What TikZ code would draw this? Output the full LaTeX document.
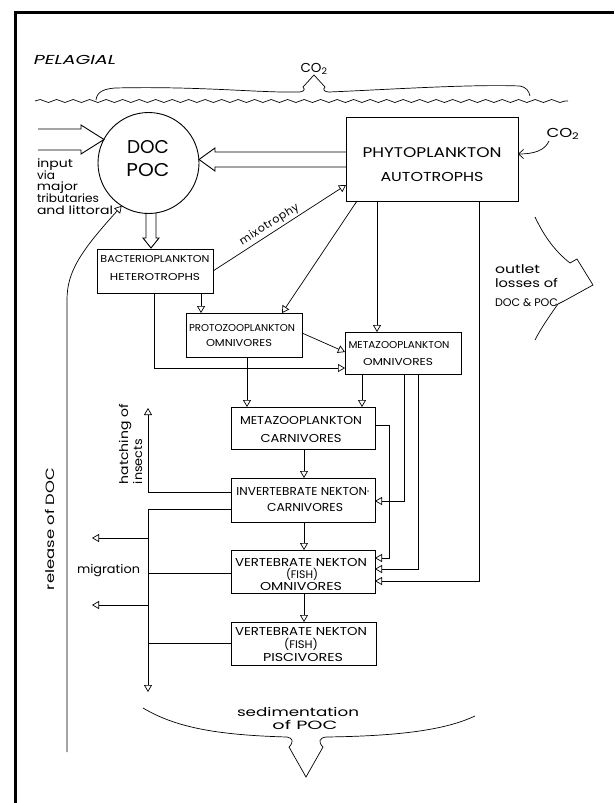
\documentclass[tikz,border=0pt]{standalone}
\usepackage{fontspec}
\setmainfont{Poppins}
\usepackage{graphicx}
\usetikzlibrary{arrows.meta,calc,decorations.pathmorphing}
% text at a given size, stretched to a given width (height kept)
\newcommand\wtxt[3]{{\fontsize{#2}{#2}\selectfont\resizebox{#1}{\height}{#3}}}

\begin{document}
\begin{tikzpicture}[x=1pt,y=-1pt,
  box/.style={draw,line width=1pt,inner sep=0pt,outer sep=0pt},
  lbl/.style={inner sep=0pt,outer sep=0pt,anchor=base},
  lblw/.style={inner sep=0pt,outer sep=0pt,anchor=base west},
  conn/.style={line width=0.7pt},
  tip/.style={conn,-{Triangle[open,length=7pt,width=8pt]}},
  blk/.style={line width=0.9pt,line join=miter},
]
\useasboundingbox (0,0) rectangle (614,803);
\fill[white] (0,0) rectangle (614,803);

% frame
\draw[line width=3pt] (15.5,803) -- (15.5,12) -- (614,12);

% surface, heading and CO2 exchange
\node[lbl] (pelagial) at (75,64) {\wtxt{82pt}{13}{\itshape PELAGIAL}};
\node[lbl] (co2top) at (314,72) {\wtxt{27pt}{13}{CO\textsubscript{2}}};
\draw[conn,decorate,decoration={snake,segment length=16.5pt,amplitude=1.5pt}] (35,101) -- (568,101);
\draw[conn] (96,100) .. controls (97,92) and (103,89) .. (115,88)
  .. controls (200,86) and (260,93) .. (299,92)
  .. controls (303,92) and (306,90) .. (303,87) -- (314,75) -- (325,87)
  .. controls (322,90) and (325,92) .. (329,92)
  .. controls (380,90) and (470,84) .. (520,86)
  .. controls (526,87) and (529,91) .. (530,96);

% pools and compartments
\node[draw,circle,line width=0.9pt,minimum size=101pt,inner sep=0pt,outer sep=0pt] (doc) at (148.5,163) {};
\node[lbl] (docA) at (148,153.5) {\wtxt{42pt}{18.5}{DOC}};
\node[lbl] (docB) at (148,176.5) {\wtxt{43pt}{18.5}{POC}};

\node[box,minimum width=172pt,minimum height=84pt] (phyto) at (432,159) {};
\node[lbl] (phytoA) at (432,157) {\wtxt{139pt}{14}{PHYTOPLANKTON}};
\node[lbl] (phytoB) at (432,181.5) {\wtxt{103pt}{13}{AUTOTROPHS}};

\node[box,minimum width=116pt,minimum height=44pt] (bact) at (155,271) {};
\node[lbl] (bactA) at (155,262.5) {\wtxt{109pt}{10}{BACTERIOPLANKTON}};
\node[lbl] (bactB) at (155,280.5) {\wtxt{90pt}{10}{HETEROTROPHS}};

\node[box,minimum width=116pt,minimum height=44pt] (proto) at (244,335) {};
\node[lbl] (protoA) at (242,331.5) {\wtxt{106pt}{10}{PROTOZOOPLANKTON}};
\node[lbl] (protoB) at (239,346.5) {\wtxt{66pt}{10}{OMNIVORES}};

\node[box,minimum width=116pt,minimum height=42pt] (mzo) at (403,353) {};
\node[lbl] (mzoA) at (399,348.5) {\wtxt{101pt}{10}{METAZOOPLANKTON}};
\node[lbl] (mzoB) at (398,365.5) {\wtxt{70pt}{10}{OMNIVORES}};

\node[box,minimum width=144pt,minimum height=42pt] (mzc) at (303,428) {};
\node[lbl] (mzcA) at (301,424) {\wtxt{122pt}{11.5}{METAZOOPLANKTON}};
\node[lbl] (mzcB) at (301,442) {\wtxt{81pt}{11.5}{CARNIVORES}};

\node[box,minimum width=144pt,minimum height=44pt] (inv) at (303,500) {};
\node[lbl] (invA) at (303,495) {\wtxt{133pt}{11.5}{INVERTEBRATE NEKTON\textperiodcentered}};
\node[lbl] (invB) at (305,511) {\wtxt{76pt}{11.5}{CARNIVORES}};

\node[box,minimum width=144pt,minimum height=43pt] (vo) at (303,571.5) {};
\node[lbl] (voA) at (301,566) {\wtxt{132pt}{11.5}{VERTEBRATE NEKTON}};
\node[lbl] (voB) at (302,578) {\wtxt{32pt}{11}{(FISH)}};
\node[lbl] (voC) at (301,590) {\wtxt{82pt}{11.5}{OMNIVORES}};

\node[box,minimum width=145pt,minimum height=43pt] (vp) at (303.5,643.5) {};
\node[lbl] (vpA) at (301,635) {\wtxt{132pt}{11.5}{VERTEBRATE NEKTON}};
\node[lbl] (vpB) at (301,648) {\wtxt{34pt}{11}{(FISH)}};
\node[lbl] (vpC) at (303,661) {\wtxt{80pt}{11.5}{PISCIVORES}};

% inputs to the DOC/POC pool
\draw[blk] (38,129) -- (81,129) -- (81,125) -- (104,139.5) -- (81,154) -- (81,150) -- (38,150);
\node[lblw] (in1) at (37,167) {\wtxt{36pt}{11.5}{input}};
\node[lblw] (in2) at (37,179) {\wtxt{18pt}{11.5}{via}};
\node[lblw] (in3) at (37,190) {\wtxt{41pt}{11.5}{major}};
\node[lblw] (in4) at (37,202) {\wtxt{62pt}{11.5}{tributaries}};
\node[lblw] (in5) at (37,214) {\wtxt{76pt}{11.5}{and littoral}};

% phytoplankton exudates to the pool, pool to bacteria
\draw[blk] (phyto.west |- 0,152) -- (215,152) -- (215,148) -- (199,159.5) -- (215,171) -- (215,167) -- (phyto.west |- 0,167);
\draw[blk] (146,212.8) -- (146,238) -- (143,238) -- (151,248) -- (159,238) -- (156,238) -- (156,212.8);

% CO2 uptake by phytoplankton
\node[lbl] (co2r) at (563,137) {\wtxt{33pt}{13}{CO\textsubscript{2}}};
\draw[conn,-{Straight Barb[length=5pt,width=9pt]}] (549,141) .. controls (545,150) and (535,154) .. ($(phyto.east)+(0,-5)$);

% outlet losses
\node[lblw] (out1) at (495,273) {\wtxt{45pt}{12}{outlet}};
\node[lblw] (out2) at (495,287) {\wtxt{63pt}{12}{losses of}};
\node[lblw] (out3) at (495,306) {\wtxt{63pt}{11}{DOC \& POC}};
\draw[conn] (535,217) .. controls (545,238) and (556,252) .. (570,263) -- (577,259) -- (593,285)
  -- (564,301) -- (558,304) .. controls (548,318) and (540,330) .. (535,340);

% feeding links
\draw[tip] (bact.east) -- ($(phyto.south west)+(0,-16)$);
\node[lbl,rotate=32.5] (mixo) at (271,227) {\fontsize{11}{11}\selectfont\addfontfeatures{LetterSpace=6}mixotrophy};
\draw[tip] ($(phyto.south west)+(11,0)$) -- ($(proto.north east)+(-20,0)$);
\draw[tip] ($(phyto.south west)+(31,0)$) -- ($(mzo.north west)+(32,0)$);
\draw[tip] ($(phyto.south east)+(-39,0)$) |- ($(vo.east)+(0,9.5)$);
\draw[tip] ($(bact.south west)+(104,0)$) -- ($(proto.north west)+(15,0)$);
\draw[tip] ($(bact.south west)+(57,0)$) |- ($(mzo.west)+(0,15)$);
\draw[tip] ($(proto.east)+(0,-2)$) -- ($(mzo.west)+(0,-1)$);
\draw[tip] ($(proto.south west)+(61,0)$) -- ($(mzc.north west)+(16,0)$);
\draw[tip] ($(mzo.south west)+(17,0)$) -- ($(mzc.north east)+(-13,0)$);
\draw[tip] ($(mzc.south)+(1,0)$) -- ($(inv.north)+(1,0)$);
\draw[tip] ($(mzc.east)+(0,-3)$) -- ++(14,0) |- ($(vo.east)+(0,-13.5)$);
\draw[tip] ($(mzo.south west)+(59,0)$) |- ($(inv.east)+(0,1)$);
\draw[tip] ($(mzo.south west)+(73,0)$) |- ($(vo.east)+(0,-2.5)$);
\draw[tip] ($(inv.south)+(1,0)$) -- ($(vo.north)+(1,0)$);
\draw[tip] ($(vo.south)+(1,0)$) -- ($(vp.north)+(0.5,0)$);

% emergence, migration and sinking
\coordinate (hatch) at (148,408);
\coordinate (sink) at (148,692);
\coordinate (mig1) at (92,538);
\coordinate (mig2) at (92,605);
\draw[tip] ($(inv.west)+(0,-8)$) -| (hatch);
\node[lblw,rotate=90] (hatchA) at (128,484) {\wtxt{80pt}{12}{hatching of}};
\node[lblw,rotate=90] (hatchB) at (142,484) {\wtxt{45pt}{12}{insects}};
\draw[tip] ($(inv.west)+(0,9)$) -| (sink);
\draw[tip] (sink |- mig1) -- (mig1);
\draw[tip] (sink |- mig2) -- (mig2);
\draw[conn] ($(vo.west)+(0,1.5)$) -- ++(-83,0);
\draw[conn] (vp.west) -- ++(-83,0);
\node[lbl] (migr) at (108.5,573) {\wtxt{63pt}{12}{migration}};

% release of DOC back to the pool
\coordinate (rel) at (67,752);
\draw[tip] (rel) -- (67,300) .. controls (67,272) and (80,252) .. (doc.238);
\node[lblw,rotate=90] (relA) at (54,590) {\wtxt{122pt}{12}{release of DOC}};

% sedimentation
\draw[conn] (143,708) .. controls (175,727) and (215,735) .. (287,737)
  .. controls (293,738) and (294,742) .. (289,747) -- (306,777) -- (323,747)
  .. controls (318,742) and (319,738) .. (326,737)
  .. controls (400,736) and (445,730) .. (475,716);
\node[lbl] (sedA) at (298,716) {\wtxt{122pt}{12}{sedimentation}};
\node[lbl] (sedB) at (305,729) {\wtxt{65pt}{12}{of POC}};
\end{tikzpicture}
\end{document}
